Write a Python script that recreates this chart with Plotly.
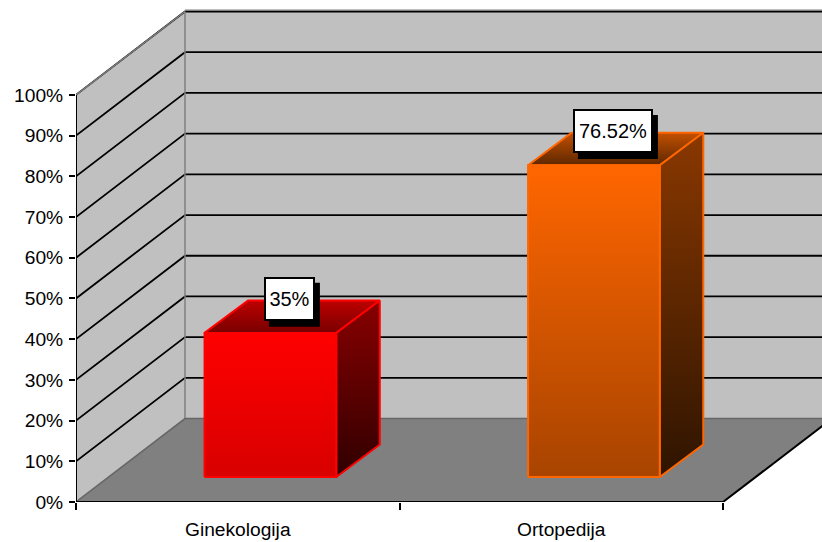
import plotly.graph_objects as go

categories = ["Ginekologija", "Ortopedija"]
bar_values = [35.4, 76.6]
bar_labels = ["35%", "76.52%"]
y_ticks = [0, 10, 20, 30, 40, 50, 60, 70, 80, 90, 100]
y_tick_labels = [f"{v}%" for v in y_ticks]
edge_colors = ["#FF0000", "#FF6600"]
front_shades = [["#FF0000", "#D80000"], ["#FF6600", "#A84400"]]
top_shades = [["#BE0000", "#780000"], ["#C25000", "#5E2700"]]
side_shades = [["#880000", "#300000"], ["#8A3800", "#2E1400"]]
label_half_width_px = [25.5, 40]

PX_X, PX_Y = 323.5, 4.075         # pixels per category / per percent
DX, DY = 109 / PX_X, 83.5 / PX_Y  # depth of the floor
BAR_W = 131.7 / PX_X
BAR_DX, BAR_DY = 43.5 / PX_X, 32.5 / PX_Y
START_X, START_Y = 0.101, 25 / PX_Y
FONT = "Liberation Sans, Arial, sans-serif"
FS = 19.2
n = len(categories)
X_MAX = 746 / PX_X
Y_MAX = 502.5 / PX_Y


def poly(xs, ys, color=None, grad=None, line=None, width=1):
    kw = dict(x=list(xs), y=list(ys), mode="lines", hoverinfo="skip",
              showlegend=False, fill="toself" if (color or grad) else "none",
              line=dict(color=line or "rgba(0,0,0,0)", width=width))
    if color:
        kw["fillcolor"] = color
    if grad:
        kw["fillgradient"] = dict(type="vertical",
                                  colorscale=[[0, grad[1]], [1, grad[0]]])
    return go.Scatter(**kw)


traces = []
# side wall and back wall
traces.append(poly([0, DX, DX, 0, 0], [0, DY, 100 + DY, 100, 0], color="#C0C0C0"))
traces.append(poly([DX, n + DX, n + DX, DX, DX],
                   [DY, DY, 100 + DY, 100 + DY, DY], color="#C0C0C0"))
# gridlines
for v in y_ticks[1:]:
    traces.append(poly([0, DX, n + DX], [v, v + DY, v + DY], line="#000000", width=1.8))
# wall edges
traces.append(poly([0, DX, DX], [100, 100 + DY, DY], line="#808080", width=1.5))
traces.append(poly([DX, n + DX], [100 + DY + 0.3, 100 + DY + 0.3], line="#808080", width=1.5))
# floor
traces.append(poly([0, DX, n + DX, n, 0], [0, DY, DY, 0, 0], color="#808080"))
traces.append(poly([0, DX, n + DX], [0, DY, DY], line="#666666", width=1.5))
traces.append(poly([n, n + DX], [0, DY], line="#000000", width=2))

# bars
shadows = []
annotations = []
for i, v in enumerate(bar_values):
    x0 = i + 0.5 + START_X - BAR_W / 2
    x1 = x0 + BAR_W
    y0 = START_Y
    y1 = START_Y + v
    c = edge_colors[i]
    traces.append(poly([x0, x1, x1 + BAR_DX, x0 + BAR_DX, x0],
                       [y1, y1, y1 + BAR_DY, y1 + BAR_DY, y1],
                       grad=[top_shades[i][0], top_shades[i][1]], line=c, width=2))
    traces.append(poly([x1, x1 + BAR_DX, x1 + BAR_DX, x1, x1],
                       [y1, y1 + BAR_DY, y0 + BAR_DY, y0, y1],
                       grad=side_shades[i], line=c, width=2))
    traces.append(poly([x0, x1, x1, x0, x0], [y0, y0, y1, y1, y0],
                       grad=front_shades[i], line=c, width=2))
    lx = i + 0.5 + START_X + 19 / PX_X
    ly = y1 + 8.4
    hw = label_half_width_px[i] / PX_X
    hh = 22 / PX_Y
    shadows.append(dict(type="rect", xref="x", yref="y", layer="above",
                        x0=lx - hw + 5 / PX_X, x1=lx + hw + 5 / PX_X,
                        y0=ly - hh - 6 / PX_Y, y1=ly + hh - 6 / PX_Y,
                        fillcolor="#000000", line=dict(width=0)))
    annotations.append(dict(x=lx, y=ly, xref="x", yref="y", text=bar_labels[i],
                            showarrow=False, bgcolor="#FFFFFF", bordercolor="#000000",
                            borderwidth=2, borderpad=0,
                            width=label_half_width_px[i] * 2 - 4, height=40,
                            font=dict(family=FONT, size=20, color="#000000")))

# axis lines
axis_y = poly([0, 0], [0, 100], line="#000000", width=2)
axis_y.cliponaxis = False
axis_x = poly([0, n], [0, 0], line="#000000", width=2)
axis_x.cliponaxis = False
traces += [axis_y, axis_x]

fig = go.Figure(traces)
fig.update_layout(
    width=822, height=542, autosize=False,
    margin=dict(l=76, r=0, t=0, b=39.5, pad=0),
    paper_bgcolor="#FFFFFF", plot_bgcolor="#FFFFFF",
    showlegend=False, shapes=shadows, annotations=annotations,
    font=dict(family=FONT, size=FS, color="#000000"),
    xaxis=dict(range=[0, X_MAX], showgrid=False, zeroline=False, showline=False,
               tickmode="array", tickvals=[i + 0.5 for i in range(n)], ticktext=categories,
               ticks="outside", ticklen=0, tickwidth=0, ticklabelstandoff=10,
               tickfont=dict(family=FONT, size=FS, color="#000000"),
               minor=dict(tickmode="array", tickvals=list(range(n + 1)), ticks="outside",
                          ticklen=6.5, tickwidth=2, tickcolor="#000000", showgrid=False)),
    yaxis=dict(range=[0, Y_MAX], showgrid=False, zeroline=False, showline=False,
               tickmode="array", tickvals=y_ticks, ticktext=y_tick_labels,
               ticks="outside", ticklen=6, tickwidth=2, tickcolor="#000000",
               ticklabelstandoff=2,
               tickfont=dict(family=FONT, size=FS, color="#000000")),
)
fig.write_html("out.html", config={"displayModeBar": False},
               post_script="document.body.style.margin='0';document.documentElement.style.overflow='hidden';")
